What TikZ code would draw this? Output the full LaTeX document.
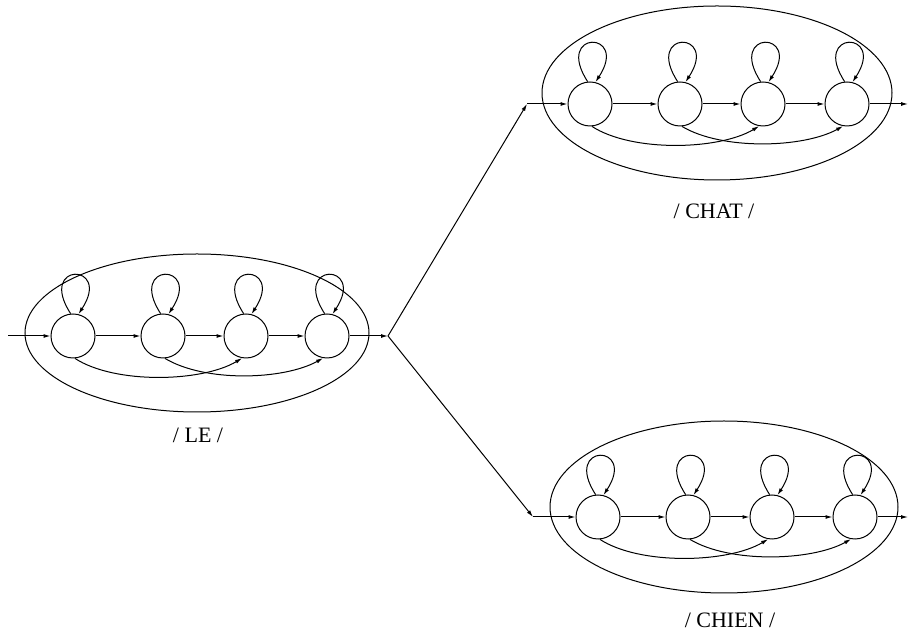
\documentclass[tikz,border=0pt]{standalone}
\usepackage{fontspec}
\setmainfont{Liberation Serif}
\usetikzlibrary{arrows.meta}
\newcommand\hmmchain[6]{%
 \node[st] (#1a) at (#2,#6) {};
 \node[st] (#1b) at (#3,#6) {};
 \node[st] (#1c) at (#4,#6) {};
 \node[st] (#1d) at (#5,#6) {};
 \draw[arr] (#1a) -- (#1b);
 \draw[arr] (#1b) -- (#1c);
 \draw[arr] (#1c) -- (#1d);
 \foreach \s in {a,b,c,d} {\draw[arr] (#1\s.96) .. controls +(-34,52) and +(34,52) .. (#1\s.76);}
 \draw[arr] (#1a.-85) .. controls +(40,-26) and +(-40,-24) .. (#1c.-100);
 \draw[arr] (#1b.-85) .. controls +(40,-24) and +(-40,-22) .. (#1d.-100);
}
\begin{document}
\begin{tikzpicture}[x=1pt,y=1pt, line width=1pt,
  st/.style={circle,draw,minimum size=44pt,inner sep=0pt},
  arr/.style={-{Latex[length=7pt,width=4pt]}},
  lbl/.style={font=\fontsize{22}{24}\selectfont, inner sep=0pt}]
\useasboundingbox (0,0) rectangle (910,634);
% word ellipses
\draw (197,301) ellipse [x radius=172pt, y radius=79pt];
\draw (717,541) ellipse [x radius=175pt, y radius=87pt];
\draw (724,127) ellipse [x radius=174pt, y radius=86pt];
% chains
\hmmchain{l}{73}{163}{246}{327}{298}
\hmmchain{c}{590}{680}{763}{847}{530}
\hmmchain{h}{598}{688}{772}{855}{117}
% connection points
\coordinate (lin) at (8,298);
\coordinate (jn) at (388,298);
\coordinate (cin) at (527,530);
\coordinate (hin) at (533,117);
\coordinate (cout) at (908,530);
\coordinate (hout) at (908,117);
\draw[arr] (lin) -- (la);
\draw[arr] (ld) -- (jn);
\draw[arr] (jn) -- (cin);
\draw[arr] (cin) -- (ca);
\draw[arr] (jn) -- (hin);
\draw[arr] (hin) -- (ha);
\draw[arr] (cd) -- (cout);
\draw[arr] (hd) -- (hout);
% labels
\node[lbl] (tle) at (198,199) {/ LE /};
\node[lbl] (tchat) at (714,423) {/ CHAT /};
\node[lbl] (tchien) at (730,14) {/ CHIEN /};
\end{tikzpicture}
\end{document}
